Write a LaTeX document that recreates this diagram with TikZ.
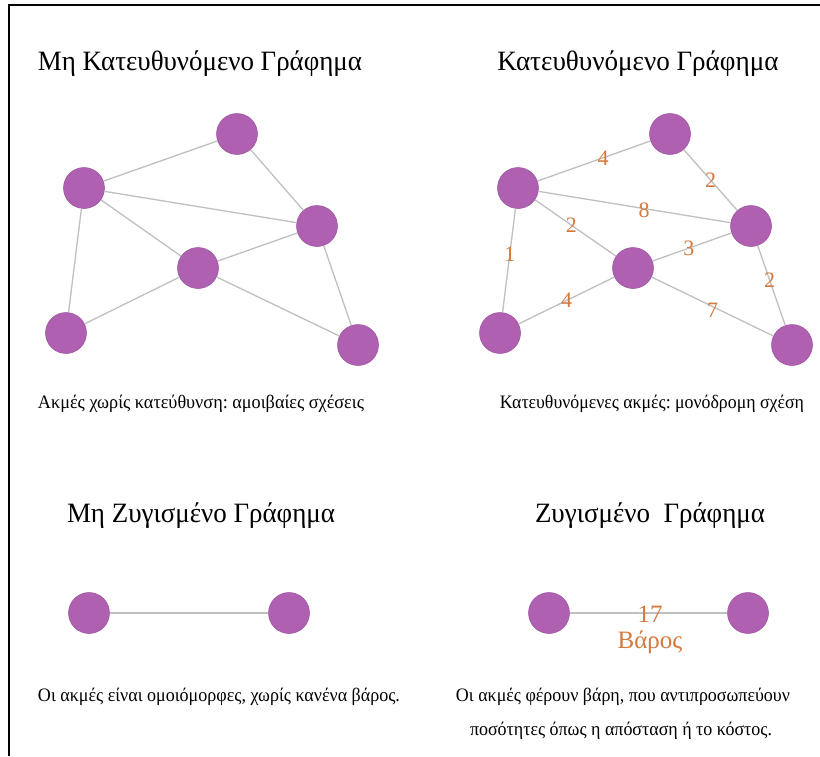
\documentclass[tikz,border=0pt]{standalone}
\usepackage{fontspec}
\setmainfont{Liberation Serif}
\usepackage{graphicx}
\definecolor{vx}{RGB}{176,96,176}
\definecolor{vxline}{RGB}{155,82,160}
\definecolor{edgegray}{RGB}{192,192,192}
\definecolor{wlabel}{RGB}{212,122,62}
\newcommand{\fitto}[2]{\resizebox{#1}{\height}{#2}}
\frenchspacing
\begin{document}
\begin{tikzpicture}[x=1pt,y=-1pt,
  vertex/.style={circle,fill=vx,draw=vxline,line width=0.5pt,minimum size=41pt,inner sep=0pt},
  link/.style={draw=edgegray,line width=1.3pt},
  wt/.style={text=wlabel,font=\fontsize{22}{22}\selectfont,inner sep=0pt},
  bigwt/.style={text=wlabel,font=\fontsize{25}{25}\selectfont,inner sep=0pt,anchor=base},
  gtitle/.style={font=\fontsize{28}{28}\selectfont,inner sep=0pt,anchor=base},
  gcap/.style={font=\fontsize{19}{19}\selectfont,inner sep=0pt,anchor=base}]
\useasboundingbox (0,0) rectangle (820,756);
\fill[white] (0,0) rectangle (820,756);
\draw[line width=2.6pt] (9,756) -- (9,5) -- (820,5);

% ---- Undirected graph
\node[gtitle] (t1) at (200,70) {\fitto{324pt}{Μη Κατευθυνόμενο Γράφημα}};
\node[vertex] (ua) at (237,134) {};
\node[vertex] (ub) at (84,188) {};
\node[vertex] (uc) at (317,226) {};
\node[vertex] (ud) at (198,268) {};
\node[vertex] (ue) at (66,333) {};
\node[vertex] (uf) at (358,345) {};
\draw[link] (ub) -- (ua);
\draw[link] (ua) -- (uc);
\draw[link] (ub) -- (uc);
\draw[link] (ub) -- (ud);
\draw[link] (ub) -- (ue);
\draw[link] (ud) -- (uc);
\draw[link] (ue) -- (ud);
\draw[link] (ud) -- (uf);
\draw[link] (uc) -- (uf);
\node[gcap] (c1) at (201,408) {\fitto{326pt}{Ακμές χωρίς κατεύθυνση: αμοιβαίες σχέσεις}};

% ---- Directed graph
\node[gtitle] (t2) at (638,70) {\fitto{281pt}{Κατευθυνόμενο Γράφημα}};
\node[vertex] (da) at (670,134) {};
\node[vertex] (db) at (518,188) {};
\node[vertex] (dc) at (751,226) {};
\node[vertex] (dd) at (633,268) {};
\node[vertex] (de) at (500,333) {};
\node[vertex] (df) at (792,345) {};
\draw[link] (db) -- node[wt,pos=0.58]{4} (da);
\draw[link] (da) -- node[wt,pos=0.5]{2} (dc);
\draw[link] (db) -- node[wt,pos=0.55,yshift=-2pt]{8} (dc);
\draw[link] (db) -- node[wt,pos=0.45]{2} (dd);
\draw[link] (dd) -- node[wt,pos=0.46]{3} (dc);
\draw[link] (db) -- node[wt,pos=0.44]{1} (de);
\draw[link] (dc) -- node[wt,pos=0.43]{2} (df);
\draw[link] (de) -- node[wt,pos=0.5]{4} (dd);
\draw[link] (dd) -- node[wt,pos=0.5,yshift=-4pt]{7} (df);
\node[gcap] (c2) at (652,408) {\fitto{304pt}{Κατευθυνόμενες ακμές: μονόδρομη σχέση}};

% ---- Unweighted graph
\node[gtitle] (t3) at (201,522) {\fitto{268pt}{Μη Ζυγισμένο Γράφημα}};
\node[vertex] (wa) at (89,613) {};
\node[vertex] (wb) at (289,613) {};
\draw[link] (wa) -- (wb);
\node[gcap] (c3) at (219,701) {\fitto{362pt}{Οι ακμές είναι ομοιόμορφες, χωρίς κανένα βάρος.}};

% ---- Weighted graph
\node[gtitle] (t4) at (650,522) {\fitto{230pt}{Ζυγισμένο\ \ Γράφημα}};
\node[vertex] (va) at (549,613) {};
\node[vertex] (vb) at (748,613) {};
\draw[link] (va) -- (vb);
\node[bigwt] (w17) at (650,622) {17};
\node[bigwt] (wname) at (650,648) {Βάρος};
\node[gcap] (c4) at (623,701) {\fitto{334pt}{Οι ακμές φέρουν βάρη, που αντιπροσωπεύουν}};
\node[gcap] (c5) at (621,735) {\fitto{302pt}{ποσότητες όπως η απόσταση ή το κόστος.}};
\end{tikzpicture}
\end{document}
